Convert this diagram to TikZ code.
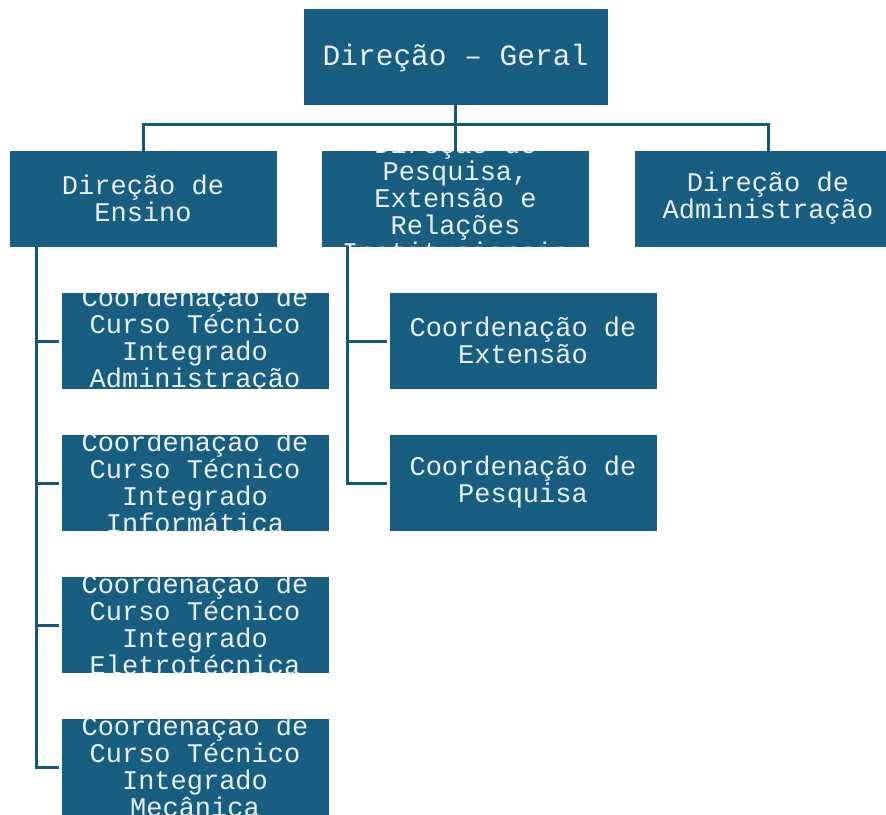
\documentclass[tikz,border=0pt]{standalone}
\usepackage{fontspec}
\newfontfamily\boxmono{Liberation Mono}
\definecolor{boxblue}{RGB}{23,94,128}
\definecolor{linkblue}{RGB}{22,88,120}
\definecolor{txtgray}{RGB}{232,238,241}
\tikzset{
  txt/.style={text=txtgray, align=center, inner sep=0pt,
    font=\boxmono\fontsize{27pt}{27pt}\selectfont},
  orgbox/.style={draw=white, line width=0.8pt, fill=boxblue,
    minimum width=268pt, minimum height=97pt, inner sep=0pt, outer sep=0pt,
    path picture={\node[txt] at ([yshift=1pt]path picture bounding box.center) {#1};}},
  link/.style={draw=linkblue, line width=3pt}
}
\begin{document}
\begin{tikzpicture}[x=1pt,y=-1pt]
\useasboundingbox (0,0) rectangle (886,814);
% top box
\node[draw=white, line width=0.8pt, fill=boxblue, minimum width=305pt, minimum height=97pt,
  inner sep=0pt, outer sep=0pt,
  path picture={\node[txt, font=\boxmono\fontsize{29.5pt}{29.5pt}\selectfont]
    at ([yshift=-1.5pt]path picture bounding box.center) {Direção – Geral};}] (ger) at (455.5,57) {};
% second row
\node[orgbox={Direção de\\Ensino}] (ens) at (143,199) {};
\node[orgbox={Direção de\\Pesquisa,\\Extensão e\\Relações\\Institucionais}] (pes) at (455.5,199) {};
\node[orgbox={Direção de\\Administração}] (adm) at (768,199) {};
% ensino children
\node[orgbox={Coordenação de\\Curso Técnico\\Integrado\\Administração}] (c1) at (195,341) {};
\node[orgbox={Coordenação de\\Curso Técnico\\Integrado\\Informática}] (c2) at (195,483) {};
\node[orgbox={Coordenação de\\Curso Técnico\\Integrado\\Eletrotécnica}] (c3) at (195,625) {};
\node[orgbox={Coordenação de\\Curso Técnico\\Integrado\\Mecânica}] (c4) at (195,767) {};
% pesquisa children
\node[orgbox={Coordenação de\\Extensão}] (ext) at (523,341) {};
\node[orgbox={Coordenação de\\Pesquisa}] (psq) at (523,483) {};
% connectors
\draw[link] ([yshift=2pt]ger.south) -- ++(0,21) -| ([yshift=-2pt]ens.north);
\draw[link] ([yshift=2pt]ger.south) -- ++(0,21) -| ([yshift=-2pt]adm.north);
\draw[link] ([yshift=2pt]ger.south) -- ([yshift=-2pt]pes.north);
\draw[link] ([xshift=27pt,yshift=2pt]ens.south west) |- ([xshift=-2pt]c1.west);
\draw[link] ([xshift=27pt,yshift=2pt]ens.south west) |- ([xshift=-2pt]c2.west);
\draw[link] ([xshift=27pt,yshift=2pt]ens.south west) |- ([xshift=-2pt]c3.west);
\draw[link] ([xshift=27pt,yshift=2pt]ens.south west) |- ([xshift=-2pt]c4.west);
\draw[link] ([xshift=26pt,yshift=2pt]pes.south west) |- ([xshift=-2pt]ext.west);
\draw[link] ([xshift=26pt,yshift=2pt]pes.south west) |- ([xshift=-2pt]psq.west);
\end{tikzpicture}
\end{document}
